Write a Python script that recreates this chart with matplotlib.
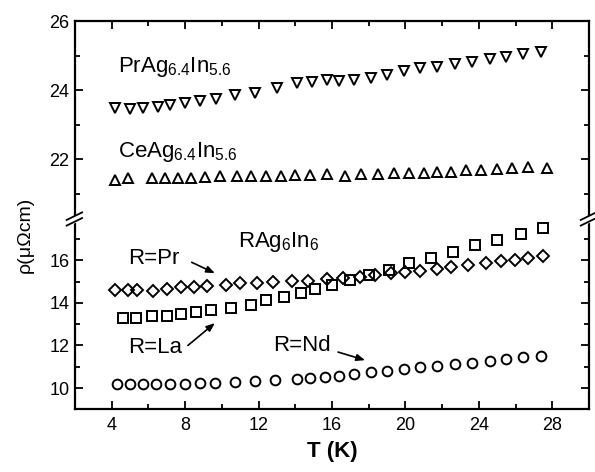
import numpy as np
import matplotlib
matplotlib.use('Agg')
import matplotlib.pyplot as plt
from matplotlib.ticker import MultipleLocator, FixedLocator
from matplotlib.lines import Line2D

plt.rcParams['font.family'] = ['Liberation Sans', 'DejaVu Sans']
plt.rcParams['mathtext.fontset'] = 'custom'
plt.rcParams['mathtext.rm'] = 'Liberation Sans'
plt.rcParams['mathtext.it'] = 'Liberation Sans:italic'

# upper panel: PrAg6.4In5.6 (down triangles), CeAg6.4In5.6 (up triangles)
t_pr64 = [4.2, 5.0, 5.7, 6.5, 7.2, 8.0, 8.8, 9.7, 10.7, 11.8, 13.0, 14.1, 14.9, 15.7,
          16.4, 17.2, 18.1, 19.0, 19.9, 20.8, 21.7, 22.7, 23.6, 24.6, 25.5, 26.4, 27.4]
rho_pr64 = [23.49, 23.44, 23.49, 23.52, 23.57, 23.63, 23.69, 23.74, 23.86, 23.92, 24.05,
            24.19, 24.24, 24.29, 24.27, 24.29, 24.34, 24.45, 24.56, 24.63, 24.68, 24.75,
            24.82, 24.89, 24.97, 25.03, 25.09]

t_ce64 = [4.2, 4.9, 6.2, 6.9, 7.6, 8.3, 9.1, 9.9, 10.8, 11.6, 12.4, 13.2, 14.0, 14.8, 15.7,
          16.7, 17.6, 18.5, 19.4, 20.2, 21.0, 21.7, 22.5, 23.3, 24.1, 25.0, 25.8, 26.7, 27.7]
rho_ce64 = [21.39, 21.46, 21.46, 21.46, 21.44, 21.46, 21.49, 21.51, 21.51, 21.51, 21.51,
            21.51, 21.54, 21.54, 21.56, 21.52, 21.56, 21.56, 21.59, 21.59, 21.59, 21.63,
            21.63, 21.68, 21.68, 21.71, 21.75, 21.78, 21.73]

# lower panel: RAg6In6, R = Pr (diamonds), La (squares), Nd (circles)
t_pr = [4.2, 4.9, 5.4, 6.25, 7.0, 7.8, 8.5, 9.2, 10.2, 11.0, 11.9, 12.8, 13.8, 14.7, 15.7,
        16.6, 17.5, 18.35, 19.2, 20.0, 20.8, 21.7, 22.5, 23.4, 24.4, 25.2, 25.95, 26.7, 27.5]
rho_pr = [14.59, 14.59, 14.59, 14.56, 14.67, 14.75, 14.75, 14.78, 14.83, 14.91, 14.91,
          14.96, 15.02, 15.04, 15.1, 15.17, 15.22, 15.3, 15.38, 15.45, 15.5, 15.58, 15.69,
          15.77, 15.89, 15.97, 16.0, 16.08, 16.19]

t_la = [4.6, 5.35, 6.2, 7.0, 7.8, 8.6, 9.4, 10.5, 11.6, 12.4, 13.4, 14.3, 15.1, 16.0, 17.0,
        18.0, 19.1, 20.2, 21.4, 22.6, 23.8, 25.0, 26.3, 27.5]
rho_la = [13.3, 13.3, 13.38, 13.39, 13.46, 13.55, 13.66, 13.77, 13.89, 14.13, 14.25, 14.45,
          14.63, 14.85, 15.06, 15.3, 15.53, 15.85, 16.11, 16.39, 16.7, 16.97, 17.22, 17.49]

t_nd = [4.3, 5.0, 5.7, 6.4, 7.2, 8.0, 8.8, 9.6, 10.7, 11.8, 12.9, 14.1, 14.8, 15.6, 16.4,
        17.2, 18.1, 19.0, 19.9, 20.8, 21.7, 22.7, 23.6, 24.6, 25.5, 26.4, 27.4]
rho_nd = [10.17, 10.17, 10.17, 10.2, 10.2, 10.2, 10.22, 10.25, 10.3, 10.33, 10.38, 10.42,
          10.48, 10.53, 10.58, 10.66, 10.74, 10.81, 10.89, 10.97, 11.05, 11.13, 11.2,
          11.28, 11.36, 11.44, 11.51]

fig = plt.figure(figsize=(5.95, 4.72), dpi=100)
left, right = 0.126, 0.990
bot, brk, top = 0.1335, 0.540, 0.9555
ax_hi = fig.add_axes([left, brk, right - left, top - brk])
ax_lo = fig.add_axes([left, bot, right - left, brk - bot])

mk = dict(linestyle='none', markerfacecolor='none', markeredgecolor='black', markeredgewidth=1.4)
ax_hi.plot(t_pr64, rho_pr64, marker='v', markersize=7.5, **mk)
ax_hi.plot(t_ce64, rho_ce64, marker='^', markersize=7.5, **mk)
ax_lo.plot(t_pr, rho_pr, marker='D', markersize=5.8, **mk)
ax_lo.plot(t_la, rho_la, marker='s', markersize=6.8, **mk)
ax_lo.plot(t_nd, rho_nd, marker='o', markersize=7, **mk)

ax_hi.set_ylim(20.32, 26)
ax_lo.set_ylim(9.02, 18.02)
for ax in (ax_hi, ax_lo):
    ax.set_xlim(2, 30)
    ax.xaxis.set_major_locator(MultipleLocator(4))
    ax.xaxis.set_minor_locator(MultipleLocator(2))
    ax.tick_params(which='both', direction='in', top=True, right=True, width=1.3,
                   labelsize=13)
    ax.tick_params(which='major', length=5.5)
    ax.tick_params(which='minor', length=3.5)
    ax.tick_params(axis='x', pad=6)
    ax.tick_params(axis='y', pad=4)
    for s in ax.spines.values():
        s.set_linewidth(1.6)

ax_hi.yaxis.set_major_locator(FixedLocator([22, 24, 26]))
ax_hi.yaxis.set_minor_locator(FixedLocator([21, 23, 25]))
ax_lo.yaxis.set_major_locator(FixedLocator([10, 12, 14, 16]))
ax_lo.yaxis.set_minor_locator(FixedLocator([11, 13, 15, 17]))

ax_hi.spines['bottom'].set_visible(False)
ax_lo.spines['top'].set_visible(False)
ax_hi.tick_params(axis='x', which='both', bottom=False, labelbottom=False)
ax_lo.tick_params(axis='x', which='both', top=False)

# break marks on both sides
for xf in (left, right):
    fig.add_artist(Line2D([xf - 0.004, xf + 0.004], [brk - 0.007, brk - 0.003],
                          color='white', linewidth=5, transform=fig.transFigure))
    for dy in (-0.012, 0.0):
        fig.add_artist(Line2D([xf - 0.014, xf + 0.012], [brk - 0.006 + dy, brk + 0.010 + dy],
                              color='black', linewidth=1.3, transform=fig.transFigure))

ax_hi.text(4.33, 24.53, r'PrAg$_{6.4}$In$_{5.6}$', fontsize=16)
ax_hi.text(4.33, 22.07, r'CeAg$_{6.4}$In$_{5.6}$', fontsize=16)
ax_lo.text(10.87, 16.62, r'RAg$_{6}$In$_{6}$', fontsize=16)

arrow = dict(arrowstyle='-|>,head_length=0.5,head_width=0.2', color='black', lw=1.2,
             shrinkA=0, shrinkB=0)
ax_lo.text(4.87, 15.8, 'R=Pr', fontsize=16)
ax_lo.annotate('', xy=(9.62, 15.39), xytext=(8.36, 15.9), arrowprops=arrow)
ax_lo.text(4.87, 11.65, 'R=La', fontsize=16)
ax_lo.annotate('', xy=(9.62, 13.05), xytext=(8.15, 12.0), arrowprops=arrow)
ax_lo.text(12.78, 11.75, 'R=Nd', fontsize=16)
ax_lo.annotate('', xy=(17.8, 11.31), xytext=(16.33, 11.69), arrowprops=arrow)

ax_lo.set_xlabel('T (K)', fontsize=16, fontweight='bold', labelpad=5)
fig.text(25 / 595, 1 - 235 / 472, '\u03c1(\u03bc\u03a9cm)', fontsize=14, rotation=90,
         ha='center', va='center')

fig.savefig('out.png', dpi=100)
